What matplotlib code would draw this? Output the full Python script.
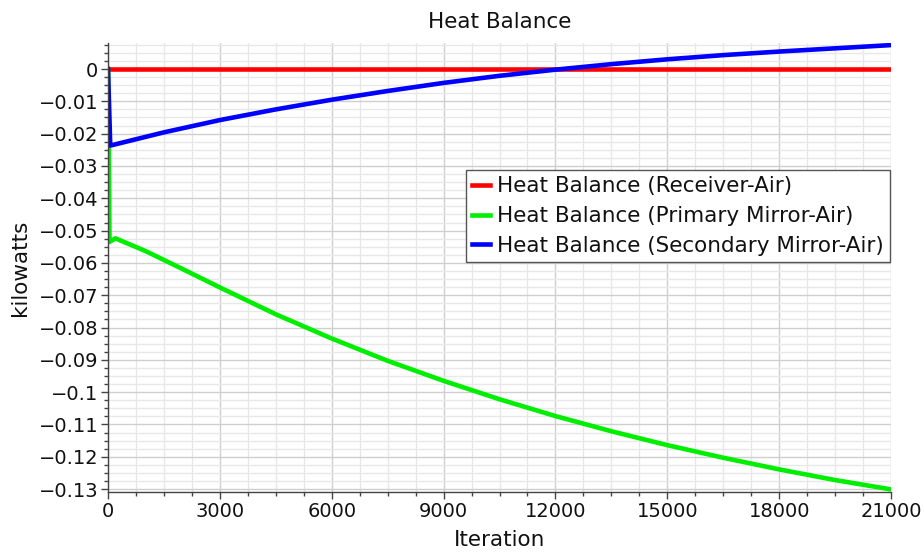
import matplotlib
matplotlib.use("Agg")
import matplotlib.pyplot as plt
from matplotlib.ticker import MultipleLocator, FuncFormatter

# Iteration history of the three heat balance monitors (kW)
receiver_iter = [0, 21000]
receiver_kw = [0.0, 0.0]

primary_iter = [0, 40, 200, 1000, 2000, 3000, 4500, 6000, 7500, 9000,
                10500, 12000, 13500, 15000, 16500, 18000, 19500, 21000]
primary_kw = [0.0, -0.0535, -0.0524, -0.0563, -0.0619, -0.0676, -0.0759,
              -0.0834, -0.0903, -0.0965, -0.1022, -0.1074, -0.1121,
              -0.1164, -0.1203, -0.1239, -0.1272, -0.1301]

secondary_iter = [0, 60, 1500, 3000, 4500, 6000, 7500, 9000, 10500,
                  12000, 13500, 15000, 16500, 18000, 19500, 21000]
secondary_kw = [0.0, -0.0237, -0.0196, -0.0158, -0.0125, -0.0095, -0.0068,
                -0.0043, -0.0021, -0.0002, 0.0015, 0.0030, 0.0043, 0.0054,
                0.0064, 0.0074]

labels = ["Heat Balance (Receiver-Air)",
          "Heat Balance (Primary Mirror-Air)",
          "Heat Balance (Secondary Mirror-Air)"]
colors = ["#ff0000", "#00ee00", "#0000ff"]

plt.rcParams["font.family"] = ["DejaVu Sans"]

fig = plt.figure(figsize=(9.24, 5.53), dpi=100)
ax = fig.add_axes([108 / 924, 1 - 492 / 553, (891 - 108) / 924, (492 - 43) / 553])

ax.plot(receiver_iter, receiver_kw, color=colors[0], lw=3.3, label=labels[0])
ax.plot(primary_iter, primary_kw, color=colors[1], lw=3.3, label=labels[1])
ax.plot(secondary_iter, secondary_kw, color=colors[2], lw=3.3, label=labels[2])

ax.set_xlim(0, 21000)
ax.set_ylim(-0.1309, 0.00805)

ax.xaxis.set_major_locator(MultipleLocator(3000))
ax.xaxis.set_minor_locator(MultipleLocator(750))
ax.yaxis.set_major_locator(MultipleLocator(0.01))
ax.yaxis.set_minor_locator(MultipleLocator(0.0025))


def fmt_y(v, pos):
    if abs(v) < 1e-9:
        return "0"
    s = f"{v:.2f}".rstrip("0")
    if s.endswith("."):
        s = s[:-1]
    return s.replace("-", "\u2212")


ax.yaxis.set_major_formatter(FuncFormatter(fmt_y))
ax.xaxis.set_major_formatter(FuncFormatter(lambda v, p: f"{int(round(v))}"))

ax.grid(which="major", color="#cfcfcf", lw=1.0)
ax.grid(which="minor", color="#e8e8e8", lw=1.0)
ax.set_axisbelow(True)

for side in ("top", "right"):
    ax.spines[side].set_visible(False)
for side in ("left", "bottom"):
    ax.spines[side].set_color("#444444")
    ax.spines[side].set_linewidth(1.0)

ax.tick_params(which="major", length=5, width=1, color="#444444",
               labelsize=14, labelcolor="#111111", pad=2)
ax.tick_params(which="minor", length=3, width=1, color="#444444")

ax.set_title("Heat Balance", fontsize=15.5, color="#111111", pad=11)
ax.set_xlabel("Iteration", fontsize=15.5, color="#111111", labelpad=7)
ax.set_ylabel("kilowatts", fontsize=15.5, color="#111111", labelpad=6)

leg = ax.legend(loc="upper right", bbox_to_anchor=(890 / 924, 1 - 170 / 553),
                bbox_transform=fig.transFigure, borderaxespad=0,
                fontsize=15.5, handlelength=0.85, handletextpad=0.3,
                labelspacing=0.45, borderpad=0.3, fancybox=False,
                framealpha=1, edgecolor="#555555")
leg.get_frame().set_linewidth(1.0)
for t in leg.get_texts():
    t.set_color("#111111")

fig.savefig("out.png", dpi=100)
